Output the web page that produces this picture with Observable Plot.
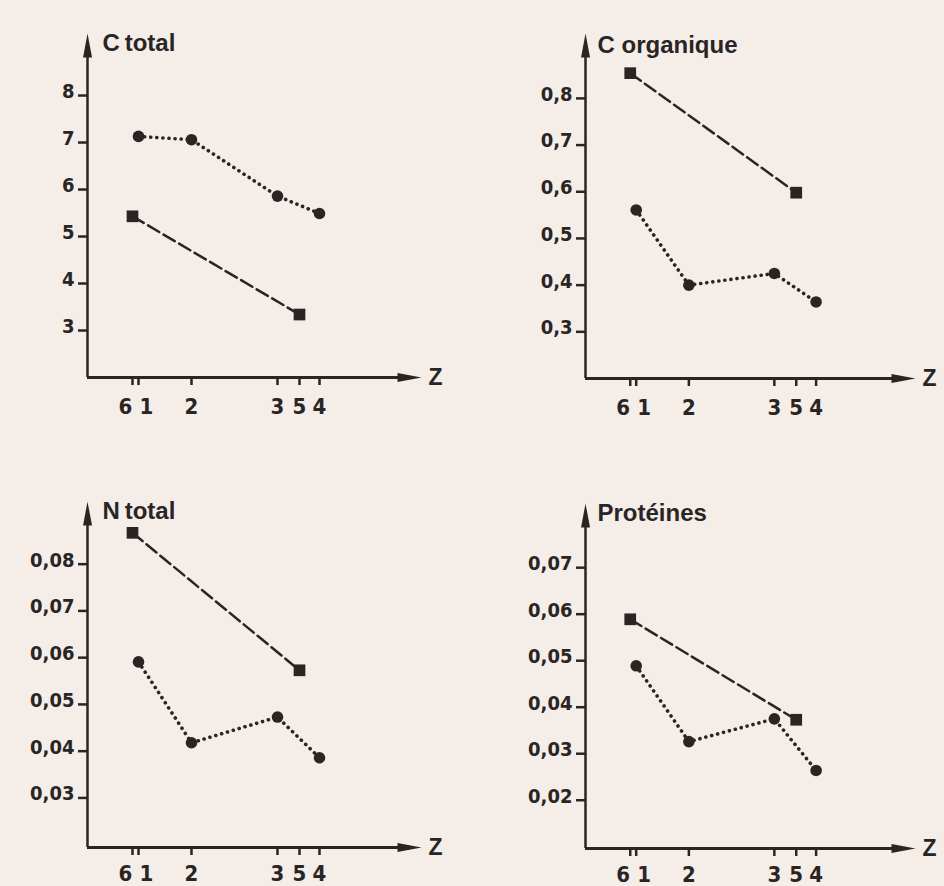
<!DOCTYPE html>
<html><head><meta charset="utf-8">
<script src="https://cdn.jsdelivr.net/npm/d3@7"></script>
<script src="https://cdn.jsdelivr.net/npm/@observablehq/plot@0.6"></script>
<style>
html,body{margin:0;padding:0;background:#f4ede8;}
#chart{position:relative;width:944px;height:886px;background:#f4ede8;overflow:hidden;}
#chart svg{position:absolute;}
</style></head><body><div id="chart"></div>
<script>
// ---- data ----
const zones = ["6", "1", "2", "3", "5", "4"];
const zonePos = [4.5, 5.1, 10.4, 19.0, 21.2, 23.2];
const circleZones = ["1", "2", "3", "4"];
const squareZones = ["6", "5"];
const titles = ["C\u2009total", "C organique", "N\u2009total", "Protéines"];

const cTotalCircles = [7.13, 7.06, 5.86, 5.49];
const cTotalSquares = [5.43, 3.34];
const cOrgCircles = [0.561, 0.400, 0.425, 0.364];
const cOrgSquares = [0.854, 0.598];
const nTotalCircles = [0.0591, 0.0418, 0.0473, 0.0386];
const nTotalSquares = [0.0867, 0.0573];
const protCircles = [0.0489, 0.0326, 0.0375, 0.0264];
const protSquares = [0.0589, 0.0373];

const yTicksCTotal = [3, 4, 5, 6, 7, 8];
const yTicksCOrg = [0.3, 0.4, 0.5, 0.6, 0.7, 0.8];
const yTicksNTotal = [0.03, 0.04, 0.05, 0.06, 0.07, 0.08];
const yTicksProt = [0.02, 0.03, 0.04, 0.05, 0.06, 0.07];

// ---- helpers ----
const INK = "#2a2525";
const posOf = z => zonePos[zones.indexOf(z)];
const toRows = (zs, vals) => zs.map((z, i) => ({zone: z, x: posOf(z), y: vals[i]}));
const commaFmt = digits => d => d.toFixed(digits).replace(".", ",");
const arrowHead = {
  draw(ctx) { ctx.moveTo(0, 0); ctx.lineTo(-4.5, 24); ctx.lineTo(4.5, 24); ctx.closePath(); }
};
const zoneRows = zones.map((z, i) => ({zone: z, x: zonePos[i]}));
const NARROW = "'Liberation Sans Narrow','DejaVu Sans Condensed',sans-serif";
const WIDE = "'Liberation Sans',Arial,sans-serif";

const panels = [
  {title: titles[0], circles: cTotalCircles, squares: cTotalSquares, ticks: yTicksCTotal, fmt: commaFmt(0),
   left: 0, top: 0, ml: 87, mr: 51, xEnd: 33.4, mt: 33, mb: 66, y: [2, 9.32], tdx: 15, tdy: 17, ldy: 29},
  {title: titles[1], circles: cOrgCircles, squares: cOrgSquares, ticks: yTicksCOrg, fmt: commaFmt(1),
   left: 472, top: 0, ml: 113, mr: 29, xEnd: 33.2, mt: 33, mb: 65, y: [0.2, 0.939], tdx: 12, tdy: 19, ldy: 29},
  {title: titles[2], circles: nTotalCircles, squares: nTotalSquares, ticks: yTicksNTotal, fmt: commaFmt(2),
   left: 0, top: 443, ml: 87, mr: 51, xEnd: 33.4, mt: 58, mb: 39, y: [0.0194, 0.0934], tdx: 15, tdy: 17, ldy: 26},
  {title: titles[3], circles: protCircles, squares: protSquares, ticks: yTicksProt, fmt: commaFmt(2),
   left: 472, top: 443, ml: 113, mr: 29, xEnd: 33.2, mt: 60, mb: 38, y: [0.00962, 0.0838], tdx: 12, tdy: 17, ldy: 26}
];

const chart = document.getElementById("chart");
for (const p of panels) {
  const circ = toRows(circleZones, p.circles);
  const sq = toRows(squareZones, p.squares);
  const [y0, y1] = p.y;
  const xLab = {x: "x", text: "zone", frameAnchor: "bottom", dy: p.ldy, lineAnchor: "middle",
    fontSize: 22, fontWeight: "bold", fontFamily: NARROW, fill: INK};
  const svg = Plot.plot({
    width: 472, height: 443,
    marginLeft: p.ml, marginRight: p.mr, marginTop: p.mt, marginBottom: p.mb,
    style: {background: "transparent", color: INK, overflow: "visible"},
    x: {domain: [0, p.xEnd], axis: null},
    y: {domain: [y0, y1], axis: null},
    marks: [
      // axes lines
      Plot.ruleX([0], {y1: y0, y2: y1 - (y1 - y0) * 0.03, stroke: INK, strokeWidth: 2.5}),
      Plot.ruleY([y0], {x1: 0, x2: p.xEnd * 0.97, stroke: INK, strokeWidth: 3}),
      Plot.dot([{x: 0, y: y1}], {x: "x", y: "y", symbol: arrowHead, fill: INK, stroke: null}),
      Plot.dot([{x: p.xEnd, y: y0}], {x: "x", y: "y", symbol: arrowHead, rotate: 90, fill: INK, stroke: null}),
      // y ticks & labels
      Plot.axisY({ticks: p.ticks, tickSize: 9, tickFormat: () => "", strokeWidth: 2.5, label: null}),
      Plot.text(p.ticks, {y: d => d, text: p.fmt, frameAnchor: "left", textAnchor: "end", dx: -13, dy: -4,
        fontSize: 20, fontWeight: "bold", fontFamily: NARROW, fill: INK}),
      // x ticks & labels
      Plot.axisX({ticks: zonePos, tickSize: 8, tickFormat: () => "", strokeWidth: 2.5, label: null}),
      Plot.text(zoneRows.filter(d => d.zone === "6"), {...xLab, dx: -7}),
      Plot.text(zoneRows.filter(d => d.zone === "1"), {...xLab, dx: 8}),
      Plot.text(zoneRows.filter(d => d.zone !== "6" && d.zone !== "1"), xLab),
      // Z label and title
      Plot.text(["Z"], {x: p.xEnd, y: y0, dx: 7, textAnchor: "start", lineAnchor: "middle",
        fontSize: 23, fontWeight: "bold", fontFamily: WIDE, fill: INK}),
      Plot.text([p.title], {x: 0, y: y1, dx: p.tdx, dy: p.tdy, textAnchor: "start", lineAnchor: "bottom",
        fontSize: 24, fontWeight: "bold", fontFamily: WIDE, fill: INK}),
      // series
      Plot.line(sq, {x: "x", y: "y", stroke: INK, strokeWidth: 2.5, strokeDasharray: "13 5"}),
      Plot.line(circ, {x: "x", y: "y", stroke: INK, strokeWidth: 3.6, strokeDasharray: "0.1 6", strokeLinecap: "round"}),
      Plot.dot(sq, {x: "x", y: "y", symbol: "square", r: 6.6, fill: INK, stroke: null}),
      Plot.dot(circ, {x: "x", y: "y", symbol: "circle", r: 5.8, fill: INK, stroke: null})
    ]
  });
  svg.style.left = p.left + "px";
  svg.style.top = p.top + "px";
  chart.appendChild(svg);
}
</script>
</body></html>
